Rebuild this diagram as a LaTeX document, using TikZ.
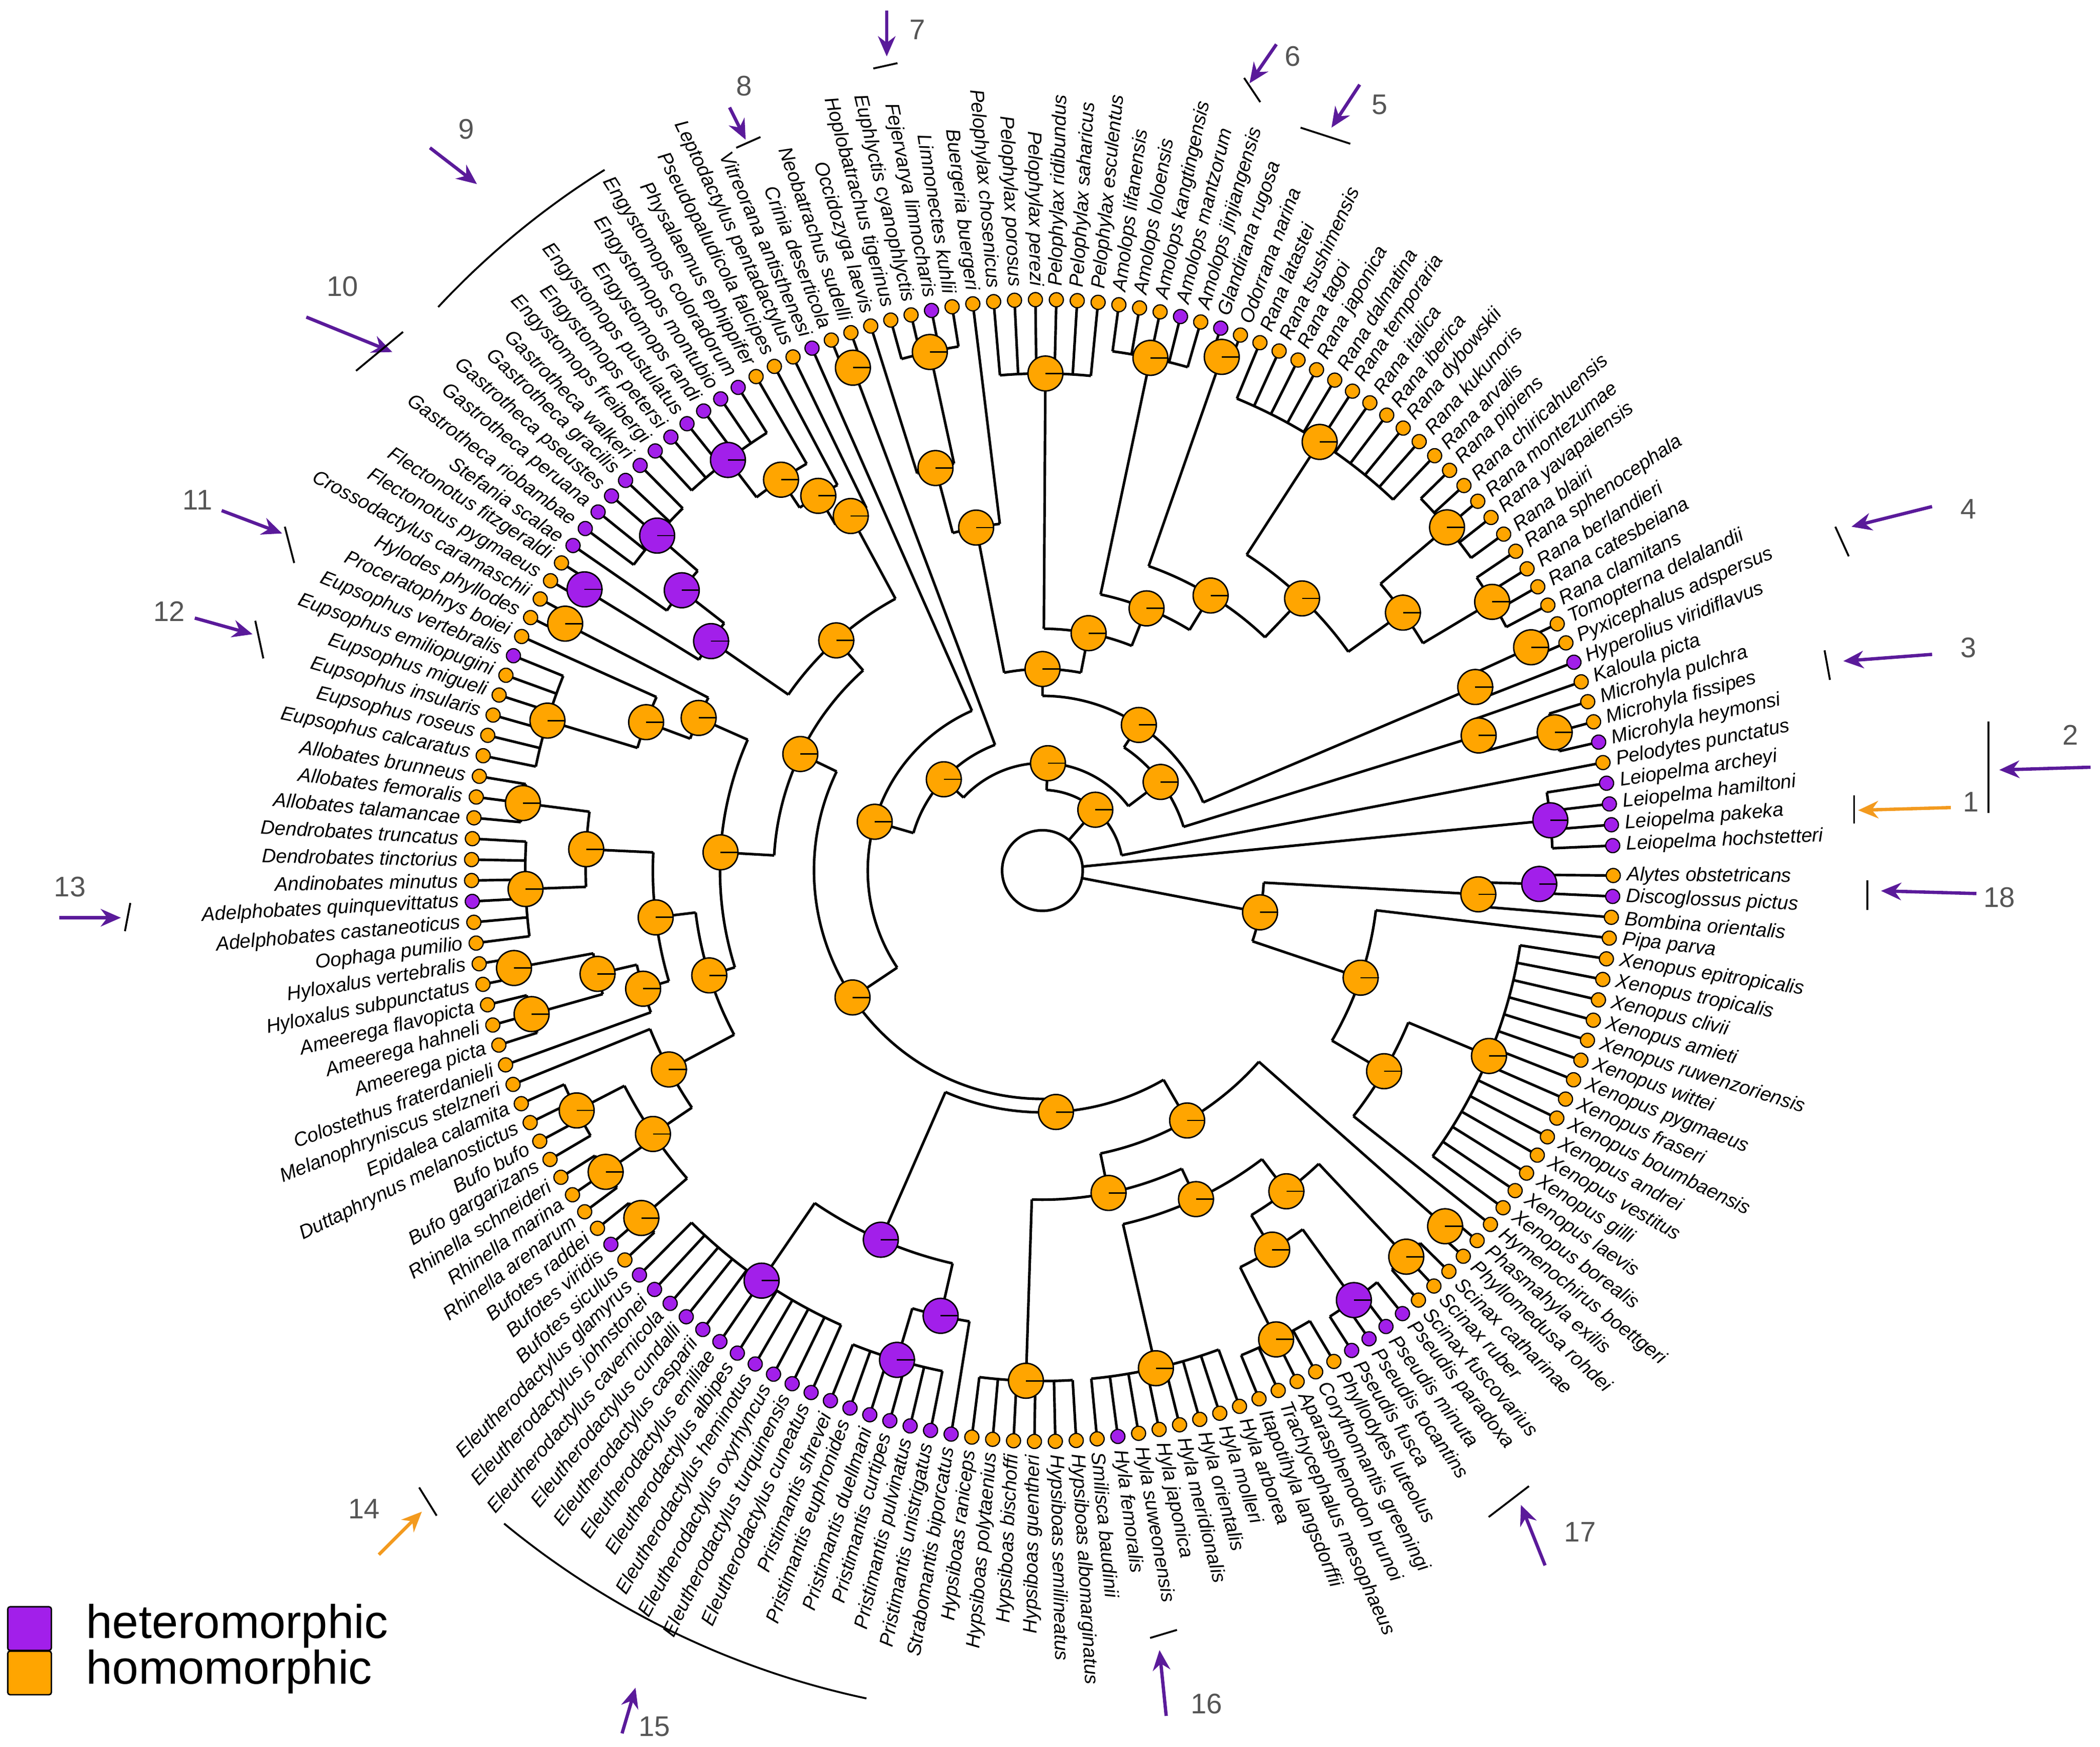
\documentclass[tikz,border=0pt]{standalone}
\usepackage{fontspec}
\setmainfont{Liberation Sans}
\usetikzlibrary{arrows.meta}
\definecolor{hetero}{HTML}{A21FEA}
\definecolor{homo}{HTML}{FFA500}
\definecolor{arrpurple}{HTML}{5A1A9A}
\definecolor{arrorange}{HTML}{F39A1E}
\definecolor{numgray}{HTML}{555555}
\tikzset{
  branch/.style={line width=1.1pt},
  tipdot/.style={circle, draw, line width=0.5pt, inner sep=0pt, minimum size=2.1mm},
  pie/.style={circle, draw, line width=0.6pt, inner sep=0pt, minimum size=5.2mm},
  taxon/.style={font=\fontsize{8.3}{9}\selectfont\itshape, inner sep=1pt},
  marknum/.style={font=\fontsize{12}{14}\selectfont, text=numgray},
  bar/.style={line width=0.8pt},
  callout/.style={-{Stealth[length=3mm,width=2.6mm]}, line width=1.4pt},
  legbox/.style={draw, rounded corners=1pt, minimum size=6.5mm, inner sep=0pt, line width=0.6pt},
  legtext/.style={font=\fontsize{20}{22}\selectfont, anchor=west}
}
% callout: number, colour, number, arrow start, arrow end, bar ends
\newcommand{\callout}[7]{%
  \node[marknum] (num#1) at #3 {#1};
  \coordinate (cs#1) at #4; \coordinate (ce#1) at #5;
  \coordinate (ba#1) at #6; \coordinate (bb#1) at #7;
  \draw[callout,#2] (cs#1) -- (ce#1);
  \draw[bar] (ba#1) -- (bb#1);}
% tip groups: first/last tip/arc radius/parent radius/colour
\def\tipgroups{0/3/7.6/0.6/hetero, 4/4/8.5/1.2/homo, 5/7/7.9/6.8/homo, 8/8/8.5/6.8/homo,
  9/9/8.5/7.0/hetero, 10/11/8.0/7.0/homo, 12/15/7.8/6.6/homo, 16/20/7.9/6.6/homo,
  21/31/7.6/5.6/homo, 32/33/8.1/4.8/homo, 34/38/7.8/4.2/homo, 39/44/7.4/3.6/homo,
  45/45/8.5/5.2/homo, 46/49/7.9/6.2/homo, 50/50/8.5/6.2/homo, 51/52/8.0/2.0/homo,
  53/53/8.5/2.6/hetero, 54/54/8.5/6.0/homo, 55/55/8.5/6.5/homo, 56/56/8.5/7.0/homo,
  57/62/7.7/7.0/hetero, 63/67/7.6/6.8/hetero, 68/68/8.5/6.8/hetero, 69/70/8.0/6.0/hetero,
  71/72/8.0/5.6/homo, 73/73/8.5/6.3/homo, 74/79/7.7/6.3/homo, 80/82/7.8/6.8/homo,
  83/88/7.7/6.8/homo, 89/90/8.0/6.8/homo, 91/93/7.9/6.8/homo, 94/94/8.5/6.2/homo,
  95/95/8.5/6.3/homo, 96/99/7.8/7.0/homo, 100/102/7.9/7.0/homo, 103/105/7.9/7.0/homo,
  106/116/7.4/6.0/hetero, 117/122/7.6/6.8/hetero, 123/123/8.5/6.8/hetero, 124/129/7.6/4.9/homo,
  130/137/7.6/5.4/homo, 138/142/7.8/6.6/homo, 143/146/7.9/6.6/hetero, 147/149/7.9/6.0/homo,
  150/151/8.0/4.3/homo, 152/152/8.5/5.9/homo, 153/166/7.2/5.9/homo, 167/167/8.5/5.0/homo,
  168/168/8.5/6.5/homo, 169/170/7.4/6.5/hetero}
% inner clades: first/last child position/arc radius/parent radius/colour
\def\clades{6/8/6.8/2.2/homo, 9/10.5/7.0/2.6/homo, 13.5/18/6.6/5.6/homo, 15.75/26/5.6/4.8/homo,
  20.875/32.5/4.8/4.2/homo, 26.69/36/4.2/3.6/homo, 31.34/41.5/3.6/3.0/homo,
  47.5/50/6.2/5.2/homo, 45/48.75/5.2/3.0/homo, 36.42/46.875/3.0/2.6/homo,
  9.75/41.65/2.6/2.2/homo, 7/25.7/2.2/1.6/homo,
  56/59.5/7.0/6.5/homo, 55/57.75/6.5/6.0/homo, 54/56.375/6.0/4.6/homo,
  65/68/6.8/6.0/hetero, 66.5/69.5/6.0/4.6/hetero, 55.19/68/4.6/4.0/homo,
  73/76.5/6.3/5.6/homo, 71.5/74.75/5.6/4.8/homo,
  81/85.5/6.8/5.8/homo, 89.5/92/6.8/6.2/homo, 90.75/94/6.2/5.8/homo, 83.25/92.375/5.8/5.2/homo,
  97.5/104/7.0/6.3/homo, 95/100.75/6.3/5.2/homo, 87.81/97.875/5.2/4.8/homo,
  73.125/92.84/4.8/4.0/homo, 61.59/82.98/4.0/3.4/homo,
  119.5/123/6.8/6.0/hetero, 111/121.25/6.0/3.6/hetero,
  140/144.5/6.6/6.0/homo, 142.25/148/6.0/5.4/homo, 133.5/145.125/5.4/4.9/homo,
  126.5/139.31/4.9/4.3/homo, 132.91/150.5/4.3/3.6/homo, 116.125/141.7/3.6/3.4/homo,
  72.29/128.91/3.4/2.6/homo, 53/100.6/2.6/2.0/homo, 51.5/76.8/2.0/1.6/homo,
  16.35/64.15/1.6/1.2/homo, 4/40.25/1.2/0.6/homo,
  152/159.5/5.9/5.0/homo, 155.75/167/5.0/3.3/homo, 168/169.5/6.5/3.3/homo,
  161.375/168.75/3.3/0.6/homo}

\begin{document}
\begin{tikzpicture}

% frame in pixels of the reference
\begin{scope}[shift={(-15.52cm,12.96cm)}, x=0.02cm, y=-0.02cm]
\useasboundingbox (0,0) rectangle (1563,1300);
\end{scope}

% branches
\draw[branch] (0,0) circle (0.6);
\foreach \lo/\hi/\r/\rp/\c in \tipgroups {
  \foreach \k in {\lo,...,\hi}
    \draw[branch] ({2.5+2.1*\k}:8.5) -- ({2.5+2.1*\k}:\r);
  \pgfmathsetmacro\alo{2.5+2.1*\lo}
  \pgfmathsetmacro\ahi{2.5+2.1*\hi}
  \pgfmathsetmacro\am{2.5+2.1*(\lo+\hi)/2}
  \draw[branch] (\alo:\r) arc[start angle=\alo, end angle=\ahi, radius=\r];
  \draw[branch] (\am:\r) -- (\am:\rp);
}
\foreach \lo/\hi/\r/\rp/\c in \clades {
  \pgfmathsetmacro\alo{2.5+2.1*\lo}
  \pgfmathsetmacro\ahi{2.5+2.1*\hi}
  \pgfmathsetmacro\am{2.5+2.1*(\lo+\hi)/2}
  \draw[branch] (\alo:\r) arc[start angle=\alo, end angle=\ahi, radius=\r];
  \draw[branch] (\am:\r) -- (\am:\rp);
}

% ancestral states
\foreach \lo/\hi/\r/\rp/\c [count=\j] in \tipgroups {
  \ifnum\lo<\hi
    \pgfmathsetmacro\am{2.5+2.1*(\lo+\hi)/2}
    \node[pie, fill=\c] (pg\j) at (\am:\r) {};
    \draw[line width=0.6pt] (pg\j.center) -- (pg\j.east);
  \fi
}
\foreach \lo/\hi/\r/\rp/\c [count=\j] in \clades {
  \pgfmathsetmacro\am{2.5+2.1*(\lo+\hi)/2}
  \node[pie, fill=\c] (pc\j) at (\am:\r) {};
  \draw[line width=0.6pt] (pc\j.center) -- (pc\j.east);
}

% tips
\foreach \nm/\c [count=\i from 0] in {
  Leiopelma hochstetteri/hetero, Leiopelma pakeka/hetero, Leiopelma hamiltoni/hetero,
  Leiopelma archeyi/hetero, Pelodytes punctatus/homo, Microhyla heymonsi/hetero,
  Microhyla fissipes/homo, Microhyla pulchra/homo, Kaloula picta/homo,
  Hyperolius viridiflavus/hetero, Pyxicephalus adspersus/homo, Tomopterna delalandii/homo,
  Rana clamitans/homo, Rana catesbeiana/homo, Rana berlandieri/homo, Rana sphenocephala/homo,
  Rana blairi/homo, Rana yavapaiensis/homo, Rana montezumae/homo, Rana chiricahuensis/homo,
  Rana pipiens/homo, Rana arvalis/homo, Rana kukunoris/homo, Rana dybowskii/homo,
  Rana iberica/homo, Rana italica/homo, Rana temporaria/homo, Rana dalmatina/homo,
  Rana japonica/homo, Rana tagoi/homo, Rana tsushimensis/homo, Rana latastei/homo,
  Odorrana narina/homo, Glandirana rugosa/hetero, Amolops jinjiangensis/homo,
  Amolops mantzorum/hetero, Amolops kangtingensis/homo, Amolops loloensis/homo,
  Amolops lifanensis/homo, Pelophylax esculentus/homo, Pelophylax saharicus/homo,
  Pelophylax ridibundus/homo, Pelophylax perezi/homo, Pelophylax porosus/homo,
  Pelophylax chosenicus/homo, Buergeria buergeri/homo, Limnonectes kuhlii/homo,
  Fejervarya limnocharis/hetero, Euphlyctis cyanophlyctis/homo, Hoplobatrachus tigerinus/homo,
  Occidozyga laevis/homo, Neobatrachus sudelli/homo, Crinia deserticola/homo,
  Vitreorana antisthenesi/hetero, Leptodactylus pentadactylus/homo,
  Pseudopaludicola falcipes/homo, Physalaemus ephippifer/homo,
  Engystomops coloradorum/hetero, Engystomops montubio/hetero, Engystomops randi/hetero,
  Engystomops pustulatus/hetero, Engystomops petersi/hetero, Engystomops freibergi/hetero,
  Gastrotheca walkeri/hetero, Gastrotheca gracilis/hetero, Gastrotheca pseustes/hetero,
  Gastrotheca peruana/hetero, Gastrotheca riobambae/hetero, Stefania scalae/hetero,
  Flectonotus fitzgeraldi/homo, Flectonotus pygmaeus/homo, Crossodactylus caramaschii/homo,
  Hylodes phyllodes/homo, Proceratophrys boiei/homo, Eupsophus vertebralis/hetero,
  Eupsophus emiliopugini/homo, Eupsophus migueli/homo, Eupsophus insularis/homo,
  Eupsophus roseus/homo, Eupsophus calcaratus/homo, Allobates brunneus/homo,
  Allobates femoralis/homo, Allobates talamancae/homo, Dendrobates truncatus/homo,
  Dendrobates tinctorius/homo, Andinobates minutus/homo, Adelphobates quinquevittatus/hetero,
  Adelphobates castaneoticus/homo, Oophaga pumilio/homo, Hyloxalus vertebralis/homo,
  Hyloxalus subpunctatus/homo, Ameerega flavopicta/homo, Ameerega hahneli/homo,
  Ameerega picta/homo, Colostethus fraterdanieli/homo, Melanophryniscus stelzneri/homo,
  Epidalea calamita/homo, Duttaphrynus melanostictus/homo, Bufo bufo/homo,
  Bufo gargarizans/homo, Rhinella schneideri/homo, Rhinella marina/homo,
  Rhinella arenarum/homo, Bufotes raddei/homo, Bufotes viridis/hetero, Bufotes siculus/homo,
  Eleutherodactylus glamyrus/hetero, Eleutherodactylus johnstonei/hetero,
  Eleutherodactylus cavernicola/hetero, Eleutherodactylus cundalli/hetero,
  Eleutherodactylus casparii/hetero, Eleutherodactylus emiliae/hetero,
  Eleutherodactylus albipes/hetero, Eleutherodactylus heminotus/hetero,
  Eleutherodactylus oxyrhyncus/hetero, Eleutherodactylus turquinensis/hetero,
  Eleutherodactylus cuneatus/hetero, Pristimantis shrevei/hetero,
  Pristimantis euphronides/hetero, Pristimantis duellmani/hetero, Pristimantis curtipes/hetero,
  Pristimantis pulvinatus/hetero, Pristimantis unistrigatus/hetero,
  Strabomantis biporcatus/hetero, Hypsiboas raniceps/homo, Hypsiboas polytaenius/homo,
  Hypsiboas bischoffi/homo, Hypsiboas guentheri/homo, Hypsiboas semilineatus/homo,
  Hypsiboas albomarginatus/homo, Smilisca baudinii/homo, Hyla femoralis/hetero,
  Hyla suweonensis/homo, Hyla japonica/homo, Hyla meridionalis/homo, Hyla orientalis/homo,
  Hyla molleri/homo, Hyla arborea/homo, Itapotihyla langsdorffii/homo,
  Trachycephalus mesophaeus/homo, Aparasphenodon brunoi/homo, Corythomantis greeningi/homo,
  Phyllodytes luteolus/homo, Pseudis fusca/hetero, Pseudis tocantins/hetero,
  Pseudis minuta/hetero, Pseudis paradoxa/hetero, Scinax fuscovarius/homo, Scinax ruber/homo,
  Scinax catharinae/homo, Phyllomedusa rohdei/homo, Phasmahyla exilis/homo,
  Hymenochirus boettgeri/homo, Xenopus borealis/homo, Xenopus laevis/homo, Xenopus gilli/homo,
  Xenopus vestitus/homo, Xenopus andrei/homo, Xenopus boumbaensis/homo, Xenopus fraseri/homo,
  Xenopus pygmaeus/homo, Xenopus wittei/homo, Xenopus ruwenzoriensis/homo,
  Xenopus amieti/homo, Xenopus clivii/homo, Xenopus tropicalis/homo,
  Xenopus epitropicalis/homo, Pipa parva/homo, Bombina orientalis/homo,
  Discoglossus pictus/hetero, Alytes obstetricans/homo} {
  \pgfmathsetmacro\a{2.5+2.1*\i}
  \pgfmathtruncatemacro\flip{(\a>90)&&(\a<270)}
  \node[tipdot, fill=\c] (t\i) at (\a:8.5) {};
  \ifnum\flip=1
    \node[taxon, anchor=east, rotate=\a+180] (l\i) at (\a:8.66) {\nm};
  \else
    \node[taxon, anchor=west, rotate=\a] (l\i) at (\a:8.66) {\nm};
  \fi
}

% brackets drawn as arcs
\draw[bar] (122:12.3) arc[start angle=122, end angle=137, radius=12.3];
\draw[bar] (230.5:12.6) arc[start angle=230.5, end angle=258, radius=12.6];

% callouts and legend, in reference pixels
\begin{scope}[shift={(-15.52cm,12.96cm)}, x=0.02cm, y=-0.02cm]
\callout{1}{arrorange}{(1467,597)}{(1452,601)}{(1383,603)}{(1380,592)}{(1380,613)}
\callout{2}{arrpurple}{(1541,547)}{(1556,571)}{(1488,573)}{(1480,537)}{(1480,605)}
\callout{3}{arrpurple}{(1465,482)}{(1438,487)}{(1372,492)}{(1358,484)}{(1362,506)}
\callout{4}{arrpurple}{(1465,379)}{(1438,377)}{(1378,392)}{(1366,392)}{(1376,414)}
\callout{5}{arrpurple}{(1027,78)}{(1012,63)}{(991,95)}{(968,95)}{(1005,107)}
\callout{6}{arrpurple}{(962,42)}{(950,33)}{(930,62)}{(926,58)}{(938,76)}
\callout{7}{arrpurple}{(683,22)}{(660,8)}{(660,42)}{(650,51)}{(668,47)}
\callout{8}{arrpurple}{(554,64)}{(543,80)}{(555,104)}{(548,110)}{(566,102)}
\callout{9}{arrpurple}{(347,96)}{(320,110)}{(355,137)}{(323,218)}{(323,218)}
\callout{10}{arrpurple}{(255,213)}{(228,236)}{(292,262)}{(265,276)}{(300,247)}
\callout{11}{arrpurple}{(147,372)}{(165,380)}{(210,397)}{(212,392)}{(219,419)}
\callout{12}{arrpurple}{(126,455)}{(145,460)}{(188,472)}{(190,462)}{(196,490)}
\callout{13}{arrpurple}{(52,660)}{(44,683)}{(90,683)}{(97,672)}{(93,693)}
\callout{14}{arrorange}{(271,1123)}{(282,1157)}{(314,1125)}{(312,1107)}{(325,1128)}
\callout{15}{arrpurple}{(487,1285)}{(463,1290)}{(473,1256)}{(370,1140)}{(370,1140)}
\callout{16}{arrpurple}{(898,1268)}{(868,1277)}{(863,1228)}{(856,1219)}{(876,1213)}
\callout{17}{arrpurple}{(1176,1140)}{(1150,1165)}{(1132,1120)}{(1108,1129)}{(1138,1106)}
\callout{18}{arrpurple}{(1488,668)}{(1471,665)}{(1400,663)}{(1390,655)}{(1390,677)}
\node[legbox, fill=hetero] (lhet) at (22,1212) {};
\node[legbox, fill=homo] (lhom) at (22,1245) {};
\node[legtext] (thet) at (58,1210) {heteromorphic};
\node[legtext] (thom) at (58,1244) {homomorphic};
\end{scope}

\end{tikzpicture}
\end{document}
